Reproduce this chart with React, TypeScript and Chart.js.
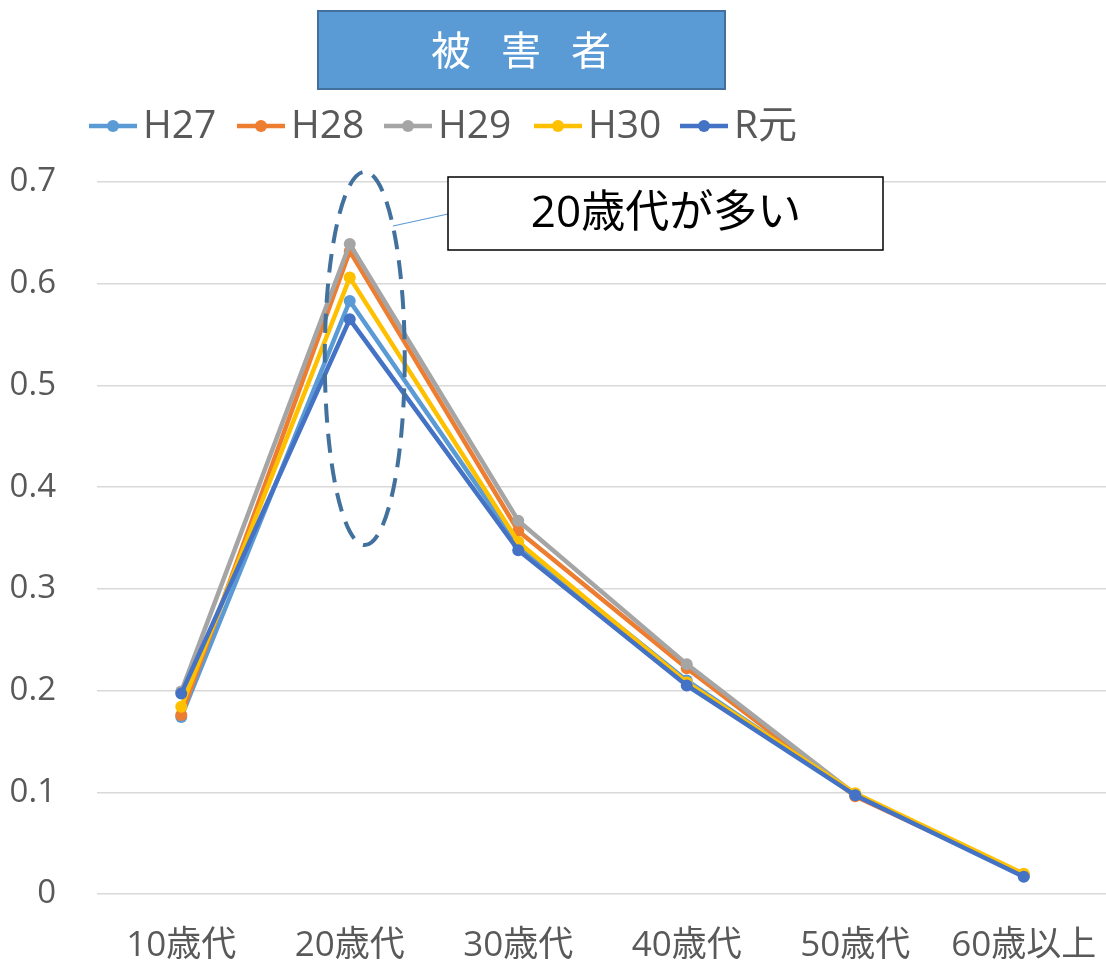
import React, { useEffect, useRef } from "react";
import { Chart, registerables } from "chart.js";

Chart.register(...registerables);

const categories = ["10歳代", "20歳代", "30歳代", "40歳代", "50歳代", "60歳以上"];
const seriesNames = ["H27", "H28", "H29", "H30", "R元"];
const seriesColors = ["#5B9BD5", "#ED7D31", "#A5A5A5", "#FFC000", "#4472C4"];
const h27 = [0.174, 0.583, 0.343, 0.21, 0.098, 0.018];
const h28 = [0.176, 0.632, 0.357, 0.222, 0.096, 0.019];
const h29 = [0.199, 0.639, 0.367, 0.226, 0.098, 0.018];
const h30 = [0.184, 0.606, 0.346, 0.208, 0.099, 0.02];
const rGan = [0.197, 0.565, 0.338, 0.205, 0.097, 0.017];
const yTickLabels = ["0", "0.1", "0.2", "0.3", "0.4", "0.5", "0.6", "0.7"];
const titleChars = ["被", "害", "者"];
const calloutText = "20歳代が多い";

const FONT = '"Open Sans", "Noto Sans CJK JP", sans-serif';

const overlayPlugin = {
  id: "overlay",
  afterDraw(chart: any) {
    const ctx = chart.ctx as CanvasRenderingContext2D;
    const x = chart.scales.x;
    const y = chart.scales.y;

    // Title box
    ctx.save();
    ctx.fillStyle = "#5B9BD5";
    ctx.fillRect(318, 11, 407, 78);
    ctx.strokeStyle = "#41719C";
    ctx.lineWidth = 2;
    ctx.strokeRect(318, 11, 407, 78);
    ctx.fillStyle = "#FFFFFF";
    ctx.font = '40px "Noto Sans CJK JP", sans-serif';
    ctx.textAlign = "center";
    ctx.textBaseline = "middle";
    titleChars.forEach((c, i) => ctx.fillText(c, 451 + i * 70, 50));
    ctx.restore();

    // Legend
    const legendX = [89, 237, 384, 534, 680];
    ctx.save();
    seriesNames.forEach((name, i) => {
      const lx = legendX[i];
      ctx.strokeStyle = seriesColors[i];
      ctx.lineWidth = 4.5;
      ctx.beginPath();
      ctx.moveTo(lx, 126);
      ctx.lineTo(lx + 48, 126);
      ctx.stroke();
      ctx.fillStyle = seriesColors[i];
      ctx.beginPath();
      ctx.arc(lx + 24, 126, 6, 0, Math.PI * 2);
      ctx.fill();
      ctx.fillStyle = "#595959";
      ctx.font = "39px " + FONT;
      ctx.textAlign = "left";
      ctx.textBaseline = "middle";
      ctx.fillText(name, lx + 54, 127);
    });
    ctx.restore();

    // Dashed ellipse around 20歳代
    const cx = x.getPixelForValue(1) + 15;
    const top = y.getPixelForValue(0.71);
    const bottom = y.getPixelForValue(0.343);
    const cy = (top + bottom) / 2;
    const ry = (bottom - top) / 2;
    ctx.save();
    ctx.strokeStyle = "#41719C";
    ctx.lineWidth = 4;
    ctx.setLineDash([19, 11]);
    ctx.beginPath();
    ctx.ellipse(cx, cy, 40, ry, 0, 0, Math.PI * 2);
    ctx.stroke();
    ctx.restore();

    // Callout line and box
    ctx.save();
    ctx.strokeStyle = "#5B9BD5";
    ctx.lineWidth = 1.2;
    ctx.beginPath();
    ctx.moveTo(393, 226);
    ctx.lineTo(448, 214);
    ctx.stroke();
    ctx.fillStyle = "#FFFFFF";
    ctx.fillRect(448, 177, 435, 73);
    ctx.strokeStyle = "#000000";
    ctx.lineWidth = 1.5;
    ctx.strokeRect(448, 177, 435, 73);
    ctx.fillStyle = "#000000";
    ctx.font = '44px "Open Sans", "Noto Sans CJK JP", sans-serif';
    ctx.textAlign = "center";
    ctx.textBaseline = "middle";
    ctx.fillText(calloutText, 666, 214);
    ctx.restore();
  },
};

export default function App() {
  const canvasRef = useRef<HTMLCanvasElement | null>(null);

  useEffect(() => {
    document.body.style.margin = "0";
    const canvas = canvasRef.current;
    if (!canvas) return;
    const seriesData = [h27, h28, h29, h30, rGan];
    const chart = new Chart(canvas, {
      type: "line",
      data: {
        labels: categories,
        datasets: seriesNames.map((name, i) => ({
          label: name,
          data: seriesData[i],
          borderColor: seriesColors[i],
          backgroundColor: seriesColors[i],
          borderWidth: 4.5,
          pointRadius: 6,
          pointBorderWidth: 0,
          pointBackgroundColor: seriesColors[i],
          tension: 0,
          order: seriesNames.length - i,
        })),
      },
      options: {
        responsive: false,
        animation: false,
        layout: { padding: { top: 182, right: 0, left: 0, bottom: 0 } },
        plugins: {
          legend: { display: false },
          title: { display: false },
          tooltip: { enabled: false },
        },
        scales: {
          x: {
            offset: true,
            grid: { display: false, drawTicks: false },
            border: { display: false },
            ticks: {
              color: "#595959",
              font: { size: 35, family: FONT },
              padding: 31,
              maxRotation: 0,
              autoSkip: false,
            },
            afterFit: (s: any) => {
              s.height = 66;
              s.paddingLeft = 0;
              s.paddingRight = 0;
            },
          },
          y: {
            min: 0,
            max: 0.7,
            ticks: {
              stepSize: 0.1,
              color: "#595959",
              font: { size: 33, family: FONT },
              padding: 41,
              callback: (_v: any, idx: number) => yTickLabels[idx],
            },
            grid: { color: "#D9D9D9", lineWidth: 1.5, drawTicks: false },
            border: { display: false },
            afterFit: (s: any) => {
              s.width = 97;
              s.paddingTop = 0;
              s.paddingBottom = 0;
            },
          },
        },
      },
      plugins: [overlayPlugin],
    });
    return () => chart.destroy();
  }, []);

  return (
    <div style={{ width: 1106, height: 960, overflow: "hidden", position: "relative" }}>
      <canvas ref={canvasRef} width={1114} height={960} style={{ display: "block" }} />
    </div>
  );
}
